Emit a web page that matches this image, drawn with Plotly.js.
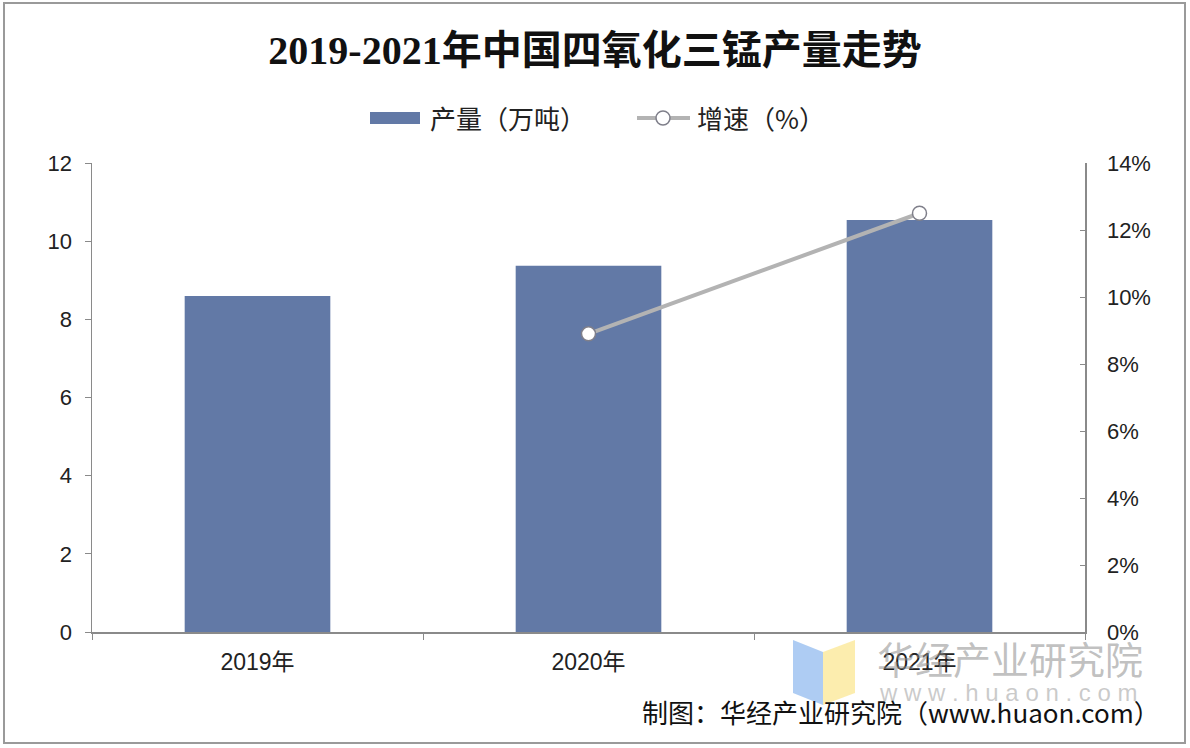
<!DOCTYPE html>
<html><head><meta charset="utf-8">
<script src="https://cdn.plot.ly/plotly-3.0.1.min.js"></script>
<style>html,body{margin:0;padding:0;background:#fff}#chart{width:1190px;height:748px}</style>
</head><body><div id="chart"></div>
<script>
const years = ["2019年", "2020年", "2021年"];
const output = [8.6, 9.37, 10.54];
const growthYears = ["2020年", "2021年"];
const growth = [8.9, 12.5];
const leftTicks = [0, 2, 4, 6, 8, 10, 12];
const rightTicks = [0, 2, 4, 6, 8, 10, 12, 14];
const rightTickText = ["0%", "2%", "4%", "6%", "8%", "10%", "12%", "14%"];
const legendNames = ["产量（万吨）", "增速（%）"];

const sans = '"Liberation Sans", Arial, "Noto Sans CJK SC", sans-serif';
const cjk = '"Noto Sans CJK SC", sans-serif';
const px2x = p => (p - 92) / 993;
const px2y = p => (632 - p) / 469;

const barColor = '#6279a6';
const lineColor = '#b3b3b3';

const traces = [
  {type: 'bar', name: legendNames[0], x: years, y: output, width: 0.44,
   marker: {color: barColor}, yaxis: 'y'},
  {type: 'scatter', mode: 'lines+markers', name: legendNames[1], x: growthYears, y: growth, yaxis: 'y2',
   line: {color: lineColor, width: 4},
   marker: {symbol: 'circle', size: 14, color: '#ffffff', line: {color: '#7f7f8a', width: 1.5}}}
];

const layout = {
  width: 1190, height: 748,
  margin: {l: 92, r: 105, t: 163, b: 116},
  paper_bgcolor: '#ffffff', plot_bgcolor: '#ffffff',
  showlegend: false,
  title: {text: '<b>2019-2021年中国四氧化三锰产量走势</b>', x: 0.5, xanchor: 'center', y: 0.933, yanchor: 'middle',
          font: {family: '"Liberation Serif", "Noto Sans CJK SC", serif', size: 40, color: '#111'}},
  xaxis: {type: 'category', showgrid: false, showline: true, linecolor: '#8a8a8a', linewidth: 1.5,
          ticks: 'outside', tickson: 'boundaries', ticklen: 6, tickcolor: '#8a8a8a',
          tickfont: {family: sans, size: 23, color: '#222'}, ticklabelstandoff: 9, range: [-0.5, 2.5]},
  yaxis: {range: [0, 12], tickvals: leftTicks, showgrid: false, zeroline: false, showline: true,
          linecolor: '#8a8a8a', linewidth: 1.5, ticks: 'outside', ticklen: 6, tickcolor: '#8a8a8a',
          tickfont: {family: sans, size: 22, color: '#222'}, ticklabelstandoff: 8},
  yaxis2: {overlaying: 'y', side: 'right', range: [0, 14], tickvals: rightTicks, ticktext: rightTickText,
           showgrid: false, zeroline: false, showline: true, linecolor: '#8a8a8a', linewidth: 1.5,
           ticks: 'inside', ticklen: 5, tickcolor: '#8a8a8a',
           tickfont: {family: sans, size: 22, color: '#222'}, ticklabelstandoff: 16},
  shapes: [
    {type: 'rect', xref: 'paper', yref: 'paper', x0: px2x(4), x1: px2x(1185), y0: px2y(743), y1: px2y(3),
     line: {color: '#9a9a9a', width: 2}, fillcolor: 'rgba(0,0,0,0)', layer: 'below'},
    {type: 'rect', xref: 'paper', yref: 'paper', x0: px2x(370), x1: px2x(420), y0: px2y(124), y1: px2y(112),
     fillcolor: barColor, line: {width: 0}},
    {type: 'line', xref: 'paper', yref: 'paper', x0: px2x(637), x1: px2x(690), y0: px2y(118), y1: px2y(118),
     line: {color: lineColor, width: 4}},
    {type: 'circle', xref: 'paper', yref: 'paper', x0: px2x(656), x1: px2x(670), y0: px2y(125), y1: px2y(111),
     fillcolor: '#ffffff', line: {color: '#7f7f8a', width: 1.5}},
    {type: 'path', xref: 'paper', yref: 'paper',
     path: `M ${px2x(793)} ${px2y(640)} L ${px2x(823)} ${px2y(652)} L ${px2x(823)} ${px2y(705)} L ${px2x(793)} ${px2y(693)} Z`,
     fillcolor: 'rgba(120,170,235,0.6)', line: {width: 0}},
    {type: 'path', xref: 'paper', yref: 'paper',
     path: `M ${px2x(823)} ${px2y(652)} L ${px2x(855)} ${px2y(640)} L ${px2x(855)} ${px2y(693)} L ${px2x(823)} ${px2y(705)} Z`,
     fillcolor: 'rgba(250,225,120,0.6)', line: {width: 0}}
  ],
  annotations: [
    {text: legendNames[0], xref: 'paper', yref: 'paper', x: px2x(428), xanchor: 'left', y: px2y(118), yanchor: 'middle',
     showarrow: false, font: {family: cjk, size: 26, color: '#222'}},
    {text: legendNames[1], xref: 'paper', yref: 'paper', x: px2x(695), xanchor: 'left', y: px2y(118), yanchor: 'middle',
     showarrow: false, font: {family: cjk, size: 26, color: '#222'}},
    {text: '华经产业研究院', xref: 'paper', yref: 'paper', x: px2x(1010), xanchor: 'center', y: px2y(657), yanchor: 'middle',
     showarrow: false, font: {family: cjk, size: 38, color: 'rgba(140,140,140,0.55)'}},
    {text: 'w w w . h u a o n . c o m', xref: 'paper', yref: 'paper', x: px2x(1008), xanchor: 'center', y: px2y(692), yanchor: 'middle',
     showarrow: false, font: {family: sans, size: 24, color: 'rgba(150,150,150,0.5)'}},
    {text: '制图：华经产业研究院（www.huaon.com）', xref: 'paper', yref: 'paper', x: px2x(1162), xanchor: 'right',
     y: px2y(711), yanchor: 'middle', showarrow: false,
     font: {family: cjk, size: 26, color: '#111'}}
  ]
};

Plotly.newPlot('chart', traces, layout, {displayModeBar: false, staticPlot: true});
</script></body></html>
